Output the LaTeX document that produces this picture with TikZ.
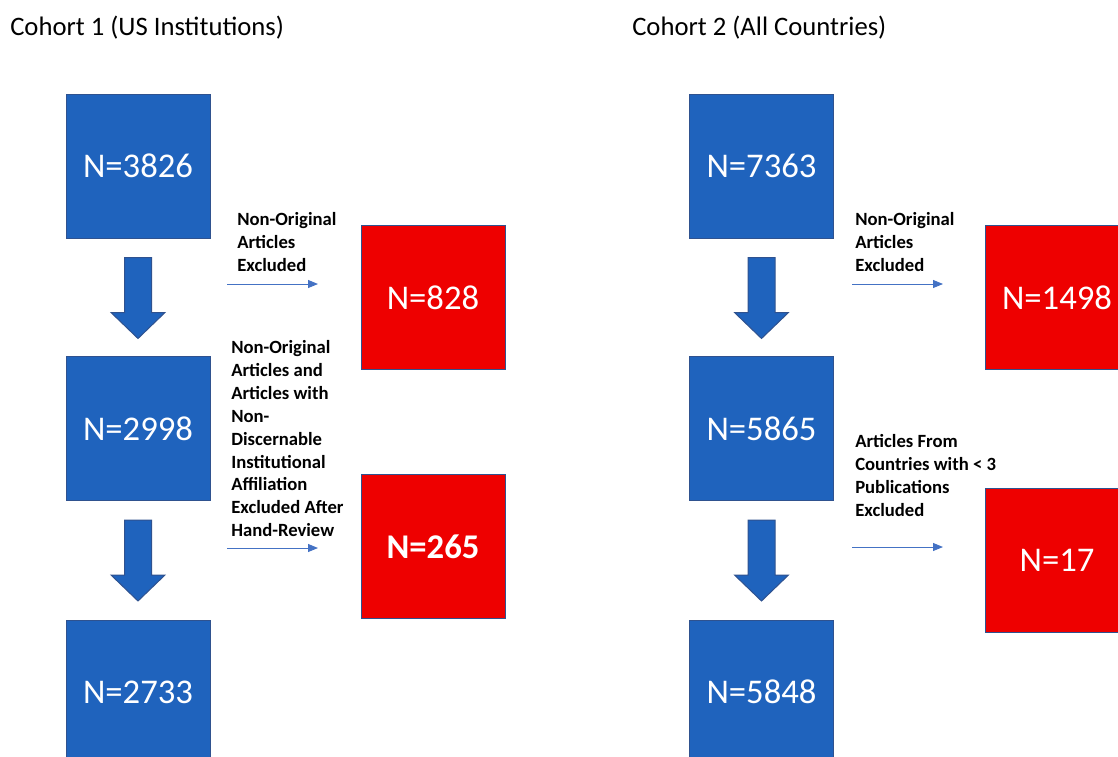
\documentclass[tikz,border=0pt]{standalone}
\usepackage{fontspec}
\setmainfont{Carlito}
\usetikzlibrary{arrows.meta,positioning,calc}
\definecolor{boxblue}{HTML}{1F63BD}
\definecolor{edgeblue}{HTML}{2F528F}
\definecolor{boxred}{HTML}{EE0000}
\definecolor{linkblue}{HTML}{4472C4}

\begin{document}
\begin{tikzpicture}[x=0.75pt,y=-0.75pt,
  countbox/.style={draw=edgeblue,line width=0.75pt,minimum width=108pt,minimum height=108pt,
    inner sep=0pt,text=white,font=\fontsize{26}{30}\selectfont},
  keptbox/.style={countbox,fill=boxblue},
  droppedbox/.style={countbox,fill=boxred},
  reason/.style={anchor=north west,align=left,inner sep=0pt,font=\bfseries\fontsize{14}{17.2}\selectfont},
  exclude/.style={-{Triangle[length=7.5pt,width=6pt]},linkblue,line width=0.7pt},
  title/.style={anchor=west,inner sep=0pt,font=\fontsize{20}{24}\selectfont},
  blockdown/.pic={
    \filldraw[fill=boxblue,draw=edgeblue,line width=0.75pt]
      (-13.5,0) -- (13.5,0) -- (13.5,55) -- (27,55) -- (0,81) -- (-27,55) -- (-13.5,55) -- cycle;
  }]
  \clip (0,0) rectangle (1118,757);

  % Titles
  \node[title] (t1) at (10,28) {Cohort 1 (US Institutions)};
  \node[title] (t2) at (632,28) {Cohort 2 (All Countries)};

  % Cohort 1
  \node[keptbox] (c1a) at (138,166) {N=3826};
  \node[keptbox] (c1b) at (138,428.5) {N=2998};
  \node[keptbox] (c1c) at (138,692) {N=2733};
  \node[droppedbox] (c1x) at (433,297.5) {N=828};
  \node[droppedbox] (c1y) at (433,546.5) {\bfseries N=265};
  \pic at ($(c1a.south)+(0,19)$) {blockdown};
  \pic at ($(c1b.south)+(0,19)$) {blockdown};

  \node[reason] (r1a) at (237,212) {Non-Original\\Articles\\Excluded};
  \node[reason] (r1b) at (231,340) {Non-Original\\Articles and\\Articles with\\Non-\\Discernable\\Institutional\\Affiliation\\Excluded After\\Hand-Review};
  \coordinate (e1a) at (227,284);
  \coordinate (f1a) at (318,284);
  \coordinate (e1b) at (227,548);
  \coordinate (f1b) at (318,548);
  \draw[exclude] (e1a) -- (f1a);
  \draw[exclude] (e1b) -- (f1b);

  % Cohort 2
  \node[keptbox] (c2a) at (761.5,166) {N=7363};
  \node[keptbox] (c2b) at (761.5,428.5) {N=5865};
  \node[keptbox] (c2c) at (761.5,692) {N=5848};
  \node[droppedbox] (c2x) at (1057,297.5) {N=1498};
  \node[droppedbox] (c2y) at (1057,560.5) {N=17};
  \pic at ($(c2a.south)+(0,19)$) {blockdown};
  \pic at ($(c2b.south)+(0,19)$) {blockdown};

  \node[reason] (r2a) at (855,212) {Non-Original\\Articles\\Excluded};
  \node[reason] (r2b) at (855,434) {Articles From\\Countries with < 3\\Publications\\Excluded};
  \coordinate (e2a) at (852,284);
  \coordinate (f2a) at (943,284);
  \coordinate (e2b) at (852,547);
  \coordinate (f2b) at (943,547);
  \draw[exclude] (e2a) -- (f2a);
  \draw[exclude] (e2b) -- (f2b);
\end{tikzpicture}
\end{document}
